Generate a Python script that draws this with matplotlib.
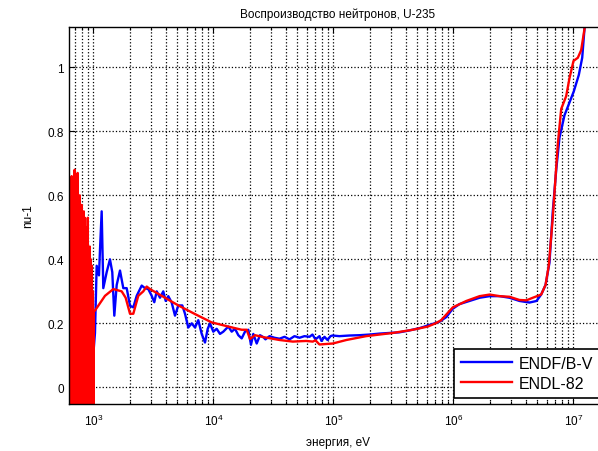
import numpy as np
import matplotlib
matplotlib.use('Agg')
import matplotlib.pyplot as plt
from matplotlib.ticker import LogLocator, NullFormatter

plt.rcParams['font.family'] = ['Liberation Sans', 'DejaVu Sans']

# ENDF/B-V, resonance region (eV, nu-1)
endf_res_e = [622, 630, 640, 652, 665, 677, 690, 704, 717, 731, 746, 760, 775, 790,
              806, 822, 838, 854, 871, 888, 905, 923, 941, 960, 979, 995]
endf_res_v = [0.46, -0.05, 0.45, 0.0, 0.5, -0.05, 0.55, 0.0, 0.5, -0.05, 0.45, 0.0, 0.5, -0.05,
              0.45, 0.0, 0.45, -0.05, 0.4, 0.0, 0.4, -0.05, 0.35, 0.05, 0.3, 0.1]

# ENDF/B-V, above 1 keV
endf_e = [1029, 1063, 1111, 1133, 1170, 1207, 1288, 1372, 1434, 1491, 1561, 1663, 1772, 1891,
          2015, 2147, 2291, 2522, 2687, 2862, 3055, 3212, 3363, 3583, 3816, 3997, 4201, 4484,
          4778, 5090, 5495, 5788, 6166, 6581, 7013, 7470, 7976, 8497, 8951, 9351, 9961,
          10630, 11330, 12070, 13290, 14180, 15110, 16100, 17180, 18300, 19500, 20540, 21470,
          22910, 24420, 26000, 27100, 29300, 32200, 35500, 39100, 43000, 47300,
          52100, 57300, 63100, 66800, 70800, 76400, 79400, 84100, 89100, 94400, 98100,
          1.12e5, 1.36e5, 1.65e5, 2.0e5, 2.42e5, 2.93e5, 3.55e5, 4.3e5, 5.21e5, 6.31e5, 7.64e5,
          8.74e5, 9.81e5, 1.12e6, 1.36e6, 1.65e6, 2.0e6, 2.42e6, 2.93e6, 3.55e6, 4.3e6, 4.92e6,
          5.38e6, 5.85e6, 6.31e6, 6.72e6, 7.18e6, 7.64e6, 8.41e6, 9.26e6, 1.006e7, 1.107e7,
          1.182e7, 1.235e7, 1.283e7]
endf_v = [0.17, 0.38, 0.35, 0.43, 0.55, 0.31, 0.36, 0.40, 0.36, 0.224, 0.32, 0.365, 0.31, 0.31,
          0.255, 0.25, 0.286, 0.318, 0.31, 0.307, 0.286, 0.266, 0.30, 0.28, 0.30, 0.27, 0.285,
          0.265, 0.224, 0.256, 0.256, 0.23, 0.187, 0.20, 0.187, 0.21, 0.167, 0.14, 0.183, 0.20,
          0.174, 0.183, 0.167, 0.174, 0.19, 0.174, 0.183, 0.163, 0.153, 0.174, 0.18, 0.133,
          0.167, 0.137, 0.163, 0.157, 0.15, 0.16, 0.155, 0.152, 0.158, 0.15, 0.16,
          0.155, 0.16, 0.158, 0.165, 0.15, 0.16, 0.145, 0.158, 0.148, 0.16, 0.162,
          0.16, 0.162, 0.163, 0.165, 0.168, 0.17, 0.172, 0.178, 0.185, 0.195, 0.205,
          0.22, 0.245, 0.26, 0.27, 0.28, 0.285, 0.285, 0.28, 0.27, 0.265, 0.27,
          0.29, 0.32, 0.39, 0.55, 0.68, 0.78, 0.85, 0.89, 0.925, 0.976,
          1.03, 1.12, 1.2]

# ENDL-82, resonance region
endl_res_e = [622, 628, 634, 640, 646, 652, 658, 665, 671, 677, 684, 690, 697, 704, 711, 717,
              724, 731, 738, 746, 753, 760, 768, 775, 783, 790, 798, 806, 814, 822, 830, 838,
              846, 854, 862, 871, 879, 888, 896, 905, 914, 923, 932, 941, 950, 960, 969, 979,
              988, 998]
endl_res_v = [0.45, -0.06, 0.6, 0.02, 0.58, -0.06, 0.66, 0.1, 0.63, -0.06, 0.55, 0.03, 0.68,
              -0.06, 0.5, 0.08, 0.64, -0.06, 0.67, 0.02, 0.46, -0.06, 0.6, 0.12, 0.52, -0.06,
              0.57, 0.0, 0.49, -0.06, 0.55, 0.05, 0.53, -0.06, 0.44, -0.06, 0.5, 0.1, 0.53,
              -0.06, 0.42, -0.06, 0.44, 0.0, 0.4, -0.06, 0.38, -0.06, 0.3, -0.06]

# ENDL-82, above 1 keV
endl_e = [1005, 1029, 1247, 1462, 1718, 1854, 2015, 2147, 2362, 2600, 2776, 2957, 3701, 5090,
          7013, 9660, 13290, 17180, 18910, 20150, 22170, 26000, 35500, 45800, 59200, 67200,
          70800, 76400, 98600, 1.28e5, 1.87e5, 3.12e5, 4.58e5, 6.11e5, 7.08e5, 7.9e5, 9.87e5,
          1.28e6, 1.65e6, 2.0e6, 2.42e6, 2.93e6, 3.55e6, 4.06e6, 4.58e6, 5.38e6, 5.85e6,
          6.22e6, 6.72e6, 7.4e6, 7.9e6, 8.69e6, 9.26e6, 1.0e7, 1.087e7, 1.159e7, 1.235e7,
          1.283e7]
endl_v = [0.237, 0.24, 0.286, 0.307, 0.30, 0.28, 0.23, 0.23, 0.286, 0.30, 0.315, 0.307, 0.286,
          0.256, 0.229, 0.203, 0.19, 0.18, 0.18, 0.151, 0.163, 0.157, 0.148, 0.143, 0.145,
          0.143, 0.147, 0.134, 0.137, 0.148, 0.16, 0.17, 0.18, 0.19, 0.20, 0.21, 0.25,
          0.27, 0.285, 0.29, 0.285, 0.283, 0.273, 0.272, 0.28, 0.29, 0.32,
          0.38, 0.53, 0.76, 0.87, 0.91, 0.966, 1.02, 1.03, 1.054, 1.12,
          1.2]

fig = plt.figure(figsize=(5.98, 4.52), dpi=100)
ax = fig.add_axes([0.1154, 0.104, 0.898, 0.834])

ax.plot(endf_res_e + endf_e, endf_res_v + endf_v, color='#0000ff', lw=1.7, label='ENDF/B-V')
ax.plot(endl_res_e + endl_e, endl_res_v + endl_v, color='#ff0000', lw=1.7, label='ENDL-82')

ax.set_xscale('log')
ax.set_xlim(10 ** 2.796, 10 ** 7.271)
ax.set_ylim(-0.052, 1.126)
ax.set_yticks([0, 0.2, 0.4, 0.6, 0.8, 1])
ax.set_yticklabels(['0', '0.2', '0.4', '0.6', '0.8', '1'])
ax.xaxis.set_major_locator(LogLocator(base=10, numticks=10))
ax.xaxis.set_minor_locator(LogLocator(base=10, subs=np.arange(2, 10), numticks=20))
ax.xaxis.set_minor_formatter(NullFormatter())

ax.grid(True, which='major', axis='both', color='k', linestyle=':', lw=0.9)
ax.grid(True, which='minor', axis='x', color='k', linestyle=':', lw=0.9)
ax.tick_params(which='both', direction='in', top=True, right=True, labelsize=8.5, width=0.8)
ax.tick_params(which='major', length=4)
ax.tick_params(which='minor', length=2)
ax.tick_params(axis='x', which='major', pad=6)
for s in ax.spines.values():
    s.set_linewidth(1.0)

ax.set_title('Воспроизводство нейтронов, U-235', fontsize=8.5, pad=7)
ax.set_xlabel('энергия, eV', fontsize=8.5, labelpad=6)
ax.set_ylabel('nu-1', fontsize=8.5, labelpad=10)

leg = ax.legend(loc='lower left', bbox_to_anchor=(0.717, 0.016), borderaxespad=0,
                fontsize=11.5, handlelength=3.2, handletextpad=0.4, borderpad=0.45,
                labelspacing=0.3, fancybox=False, framealpha=1, edgecolor='k')
leg.get_frame().set_linewidth(1.2)

fig.savefig('out.png', dpi=100)
